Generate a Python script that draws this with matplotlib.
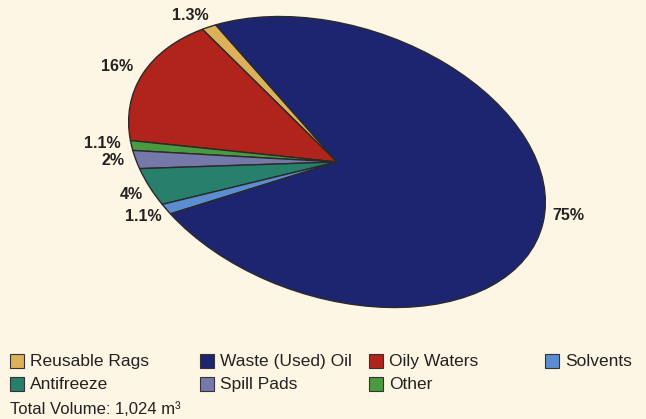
import numpy as np
import matplotlib
matplotlib.use("Agg")
import matplotlib.pyplot as plt
from matplotlib.transforms import Affine2D
from matplotlib.patches import Rectangle

# Waste streams (percent of total volume), counter-clockwise order of the pie
categories = ["Reusable Rags", "Oily Waters", "Other", "Spill Pads",
              "Antifreeze", "Solvents", "Waste (Used) Oil"]
shares = [1.3, 16, 1.1, 2, 4, 1.1, 75]
share_labels = ["1.3%", "16%", "1.1%", "2%", "4%", "1.1%", "75%"]
colors = ["#DDB05A", "#B0241B", "#4C9A3F", "#7479AA",
          "#27806B", "#5B8DD0", "#1D2571"]

# Legend layout: rows of entries as they appear under the chart
legend_rows = [["Reusable Rags", "Waste (Used) Oil", "Oily Waters", "Solvents"],
               ["Antifreeze", "Spill Pads", "Other"]]
total_note = "Total Volume: 1,024 m\u00b3"

W, H = 646, 419
bg = "#FEF6E4"
fig = plt.figure(figsize=(W / 100, H / 100), dpi=100, facecolor=bg)
ax = fig.add_axes([0, 0, 1, 1])
ax.set_facecolor(bg)

# Tilted elliptical pie: unit pie scaled and rotated about its centre
cx, cy = 337, H - 162
semi_a, semi_b, tilt = 215, 135.5, -18.5
to_page = Affine2D().scale(semi_a, semi_b).rotate_deg(tilt).translate(cx, cy)

wedges, _ = ax.pie(shares, colors=colors, startangle=137.5, counterclock=True,
                   wedgeprops=dict(edgecolor="#2a2a2a", linewidth=1.0))
for w in wedges:
    w.set_transform(to_page + ax.transData)

ax.set_aspect("auto")
ax.set_xlim(0, W)
ax.set_ylim(0, H)
ax.axis("off")

# Percentage labels placed just outside each wedge (radius, angular nudge)
label_dist = [1.10, 1.12, 1.14, 1.115, 1.115, 1.14, 1.11]
label_nudge = [1.8, 1.2, 0.0, 0.3, 1.7, 0.4, 5.6]
for w, txt, r, dth in zip(wedges, share_labels, label_dist, label_nudge):
    mid = np.deg2rad((w.theta1 + w.theta2) / 2 + dth)
    px, py = to_page.transform((r * np.cos(mid), r * np.sin(mid)))
    ax.text(px, py, txt, ha="center", va="center", fontsize=11.5,
            fontweight="bold", color="#222222", family="Liberation Sans")

# Legend drawn beneath the pie
color_of = {c: col for c, col in zip(categories, colors)}
col_x = [10, 200, 369, 545]
row_y = [361, 384]
box = 14
for row, yy in zip(legend_rows, row_y):
    for name, xx in zip(row, col_x):
        fig.patches.append(Rectangle((xx / W, (H - yy - box / 2) / H), box / W, box / H,
                                     transform=fig.transFigure, facecolor=color_of[name],
                                     edgecolor="#333333", linewidth=0.8))
        fig.text((xx + box + 6) / W, (H - yy) / H, name, ha="left", va="center",
                 fontsize=12.5, color="#222222", family="Liberation Sans")
fig.text(10 / W, (H - 409) / H, total_note, ha="left", va="center",
         fontsize=12, color="#222222", family="Liberation Sans")

fig.savefig("out.png", dpi=100, facecolor=bg)
